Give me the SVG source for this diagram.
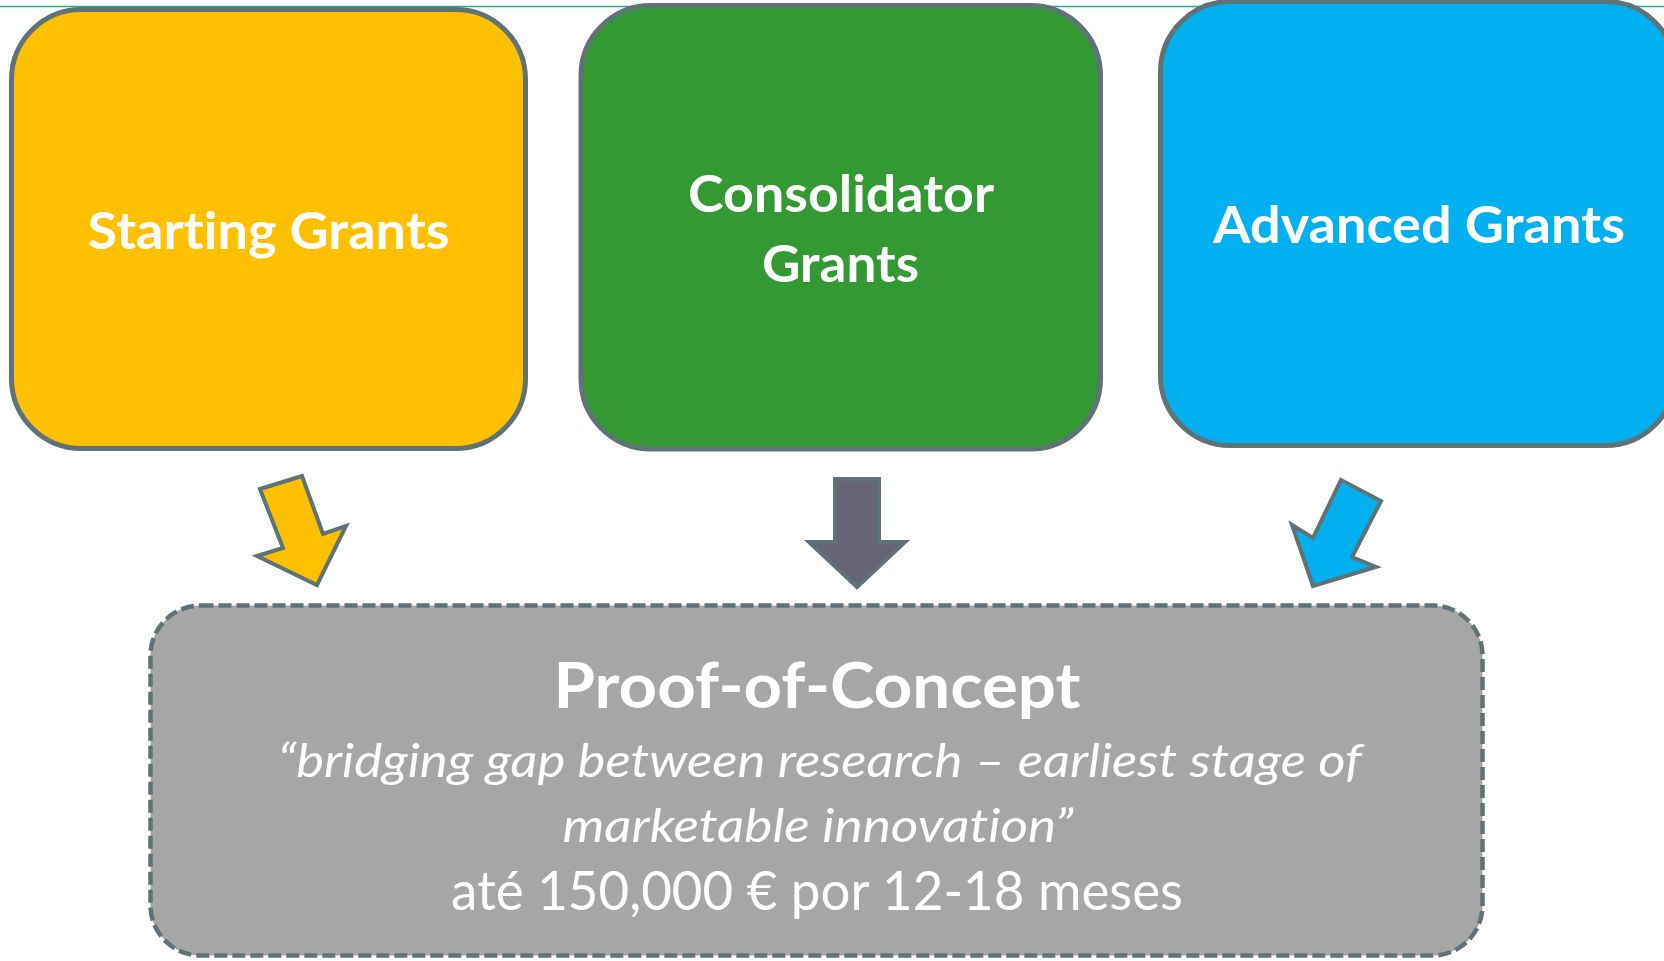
<svg xmlns="http://www.w3.org/2000/svg" width="1664" height="961" viewBox="0 0 1664 961">
<style>
.box{stroke:#5F7276;stroke-width:5}
.t{font-family:Lato,"Open Sans","Liberation Sans",sans-serif;fill:#FFFFFF;text-anchor:middle;font-variant-ligatures:none;font-feature-settings:"liga" 0,"clig" 0}
.b{font-weight:bold;font-size:52px}
.arr{stroke:#5F7276;stroke-width:4;stroke-linejoin:miter}
</style>
<rect x="0" y="0" width="1664" height="961" fill="#FFFFFF"/>
<line x1="0" y1="6.5" x2="1664" y2="6.5" stroke="#1FB08E" stroke-width="1.6"/>
<g id="node-starting">
<rect class="box" x="11.5" y="9.5" width="514" height="439" rx="70" ry="70" fill="#FFC000"/>
<text class="t b" x="268.5" y="249" textLength="362" lengthAdjust="spacingAndGlyphs">Starting Grants</text>
</g>
<g id="node-consolidator">
<rect class="box" x="581" y="5.5" width="519.5" height="443.5" rx="70" ry="70" fill="#339933"/>
<text class="t b" x="841" y="212" textLength="306" lengthAdjust="spacingAndGlyphs">Consolidator</text>
<text class="t b" x="840.5" y="282" textLength="157" lengthAdjust="spacingAndGlyphs">Grants</text>
</g>
<g id="node-advanced">
<rect class="box" x="1160.5" y="1.5" width="515" height="444" rx="70" ry="70" fill="#00B0F0"/>
<text class="t b" x="1419" y="243" textLength="412" lengthAdjust="spacingAndGlyphs">Advanced Grants</text>
</g>
<g id="connectors">
<polygon class="arr" fill="#FFC000" points="260,489 302,476 323,534 346,526 317,585 257,556 283,548"/>
<polygon class="arr" fill="#676475" points="835,479 879,479 879,542 905,542 857,587 809,542 835,542"/>
<polygon class="arr" fill="#00B0F0" points="1341,480 1381,501 1352,557 1376,567 1313,586 1292,525 1313,538"/>
</g>
<g id="node-poc">
<rect x="150.5" y="605.5" width="1332" height="350" rx="50" ry="50" fill="#A6A6A6" stroke="#5F7276" stroke-width="4.5" stroke-dasharray="13 5"/>
<text class="t" x="817" y="708" font-weight="bold" font-size="63" textLength="527" lengthAdjust="spacingAndGlyphs">Proof-of-Concept</text>
<text class="t" x="820" y="777" font-style="italic" font-size="46" textLength="1084" lengthAdjust="spacingAndGlyphs">“bridging gap between research – earliest stage of</text>
<text class="t" x="818" y="842" font-style="italic" font-size="46" textLength="511" lengthAdjust="spacingAndGlyphs">marketable innovation”</text>
<text class="t" x="817" y="910" font-size="54" textLength="732" lengthAdjust="spacingAndGlyphs">até 150,000 € por 12-18 meses</text>
</g>
</svg>
